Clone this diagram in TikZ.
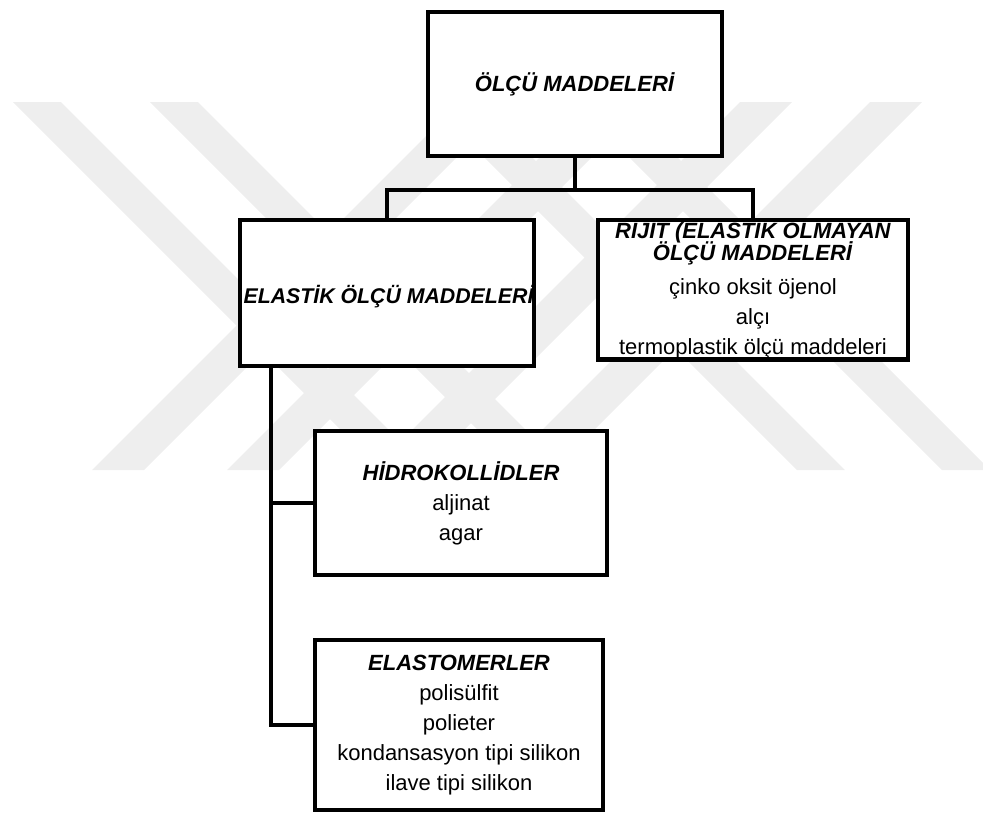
\documentclass[tikz,border=0pt]{standalone}
\usepackage{fontspec}
\setmainfont{Liberation Sans}
\definecolor{wmgray}{HTML}{EEEEEE}
\newcommand{\ttl}[1]{\textbf{\textit{#1}}}
\begin{document}
\begin{tikzpicture}[x=1pt,y=-1pt]
    \tikzstyle{box} = [draw, line width=4.5pt, fill=white, inner sep=0pt, align=center, font=\fontsize{22}{30}\selectfont]
    \tikzstyle{link} = [line width=4.5pt]
    \tikzstyle{wm} = [fill=wmgray]
        \useasboundingbox (0,0) rectangle (983,815);
        % watermark
        \begin{scope}
            \clip (0,102) rectangle (983,470);
            \foreach \x in {13,150,429,574}
                \fill[wm] (\x,102) -- ++(48,0) -- ++(368,368) -- ++(-48,0) -- cycle;
            \foreach \x in {92,227,372,502}
                \fill[wm] (\x,470) -- ++(52,0) -- ++(368,-368) -- ++(-52,0) -- cycle;
        \end{scope}
        % root
        \node[box,minimum width=294pt,minimum height=144pt] (olcu) at (575,84) {\ttl{ÖLÇÜ MADDELERİ}};
        % level 1
        \node[box,minimum width=294pt,minimum height=146pt,
            path picture={\node[font=\fontsize{21.3}{30}\selectfont,inner sep=0pt,xshift=2pt,yshift=-4pt]
                at (path picture bounding box.center) {\ttl{ELASTİK ÖLÇÜ MADDELERİ}};}] (elastik) at (387,293) {};
        \node[box,minimum width=310pt,minimum height=139pt] (rijit) at (753,289.5)
            {\ttl{RİJİT (ELASTİK OLMAYAN}\\[-8pt]\ttl{ÖLÇÜ MADDELERİ}\\[4pt]çinko oksit öjenol\\alçı\\termoplastik ölçü maddeleri};
        \coordinate (bar) at (575,190);
        \draw[link] (olcu.south) -- (olcu.south |- bar);
        \draw[link] (elastik.north) |- (rijit.north |- bar) -- (rijit.north);
        % level 2
        \node[box,minimum width=292pt,minimum height=144pt] (hidro) at (461,503) {\ttl{HİDROKOLLİDLER}\\aljinat\\agar};
        \node[box,minimum width=288pt,minimum height=170pt] (elastomer) at (459,725)
            {\ttl{ELASTOMERLER}\\polisülfit\\polieter\\kondansasyon tipi silikon\\ilave tipi silikon};
        \coordinate (trunk) at (271,0);
        \draw[link] (elastik.south -| trunk) |- (elastomer.west);
        \draw[link] (trunk |- hidro.west) -- (hidro.west);
\end{tikzpicture}
\end{document}
